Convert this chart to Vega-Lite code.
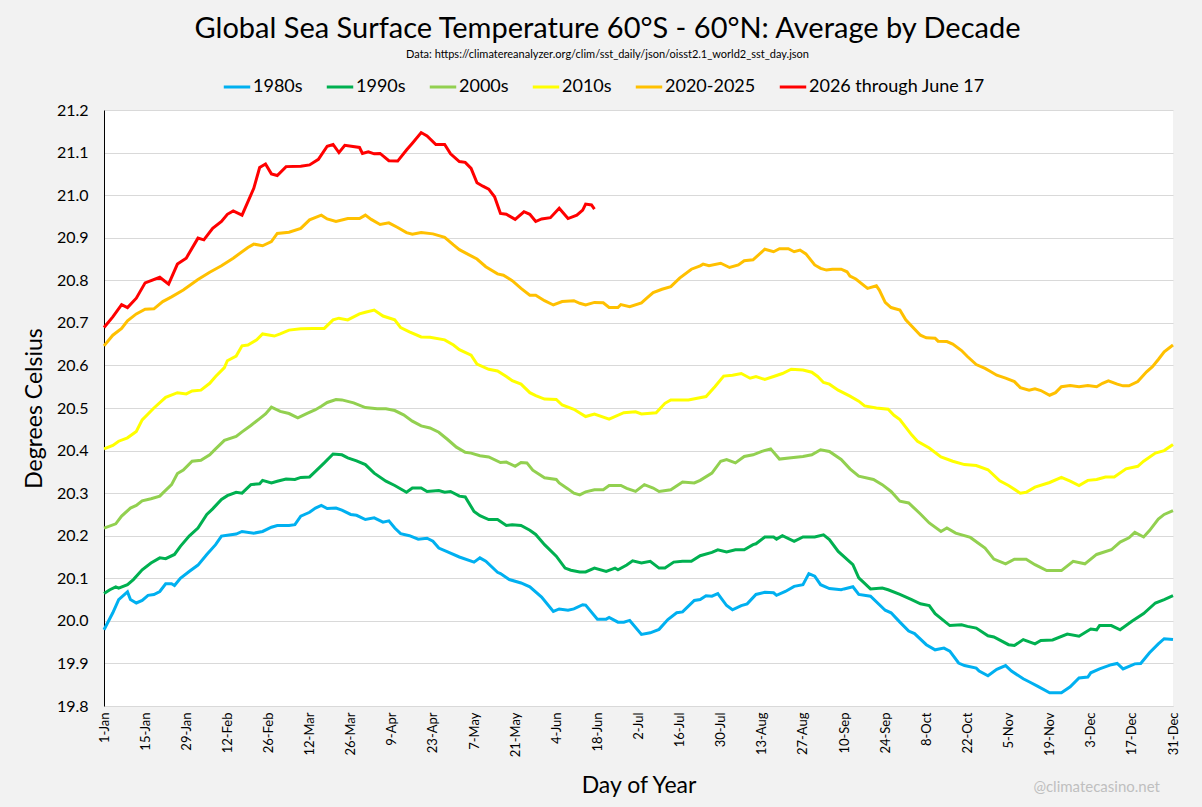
{
"$schema":"https://vega.github.io/schema/vega-lite/v6.json",
"width":1069,"height":596,
"autosize":"none",
"padding":{"left":104,"top":110,"right":29,"bottom":101},
"background":"#f2f2f2",
"config":{"font":"Lato","view":{"fill":"white","stroke":null}},
"title":{"text":"Global Sea Surface Temperature 60°S - 60°N: Average by Decade","subtitle":"Data: https://climatereanalyzer.org/clim/sst_daily/json/oisst2.1_world2_sst_day.json","fontSize":29,"fontWeight":"normal","color":"black","subtitleFontSize":11,"subtitleColor":"black","subtitlePadding":5,"anchor":"middle","dx":-31,"offset":12},
"datasets":{
"d1980":[{"day":1,"temp":19.979},{"day":4,"temp":20.019},{"day":6,"temp":20.05},{"day":9,"temp":20.068},{"day":10,"temp":20.05},{"day":12,"temp":20.042},{"day":14,"temp":20.048},{"day":16,"temp":20.06},{"day":18,"temp":20.062},{"day":20,"temp":20.069},{"day":22,"temp":20.087},{"day":24,"temp":20.087},{"day":25,"temp":20.083},{"day":27,"temp":20.1},{"day":30,"temp":20.116},{"day":33,"temp":20.131},{"day":36,"temp":20.156},{"day":39,"temp":20.179},{"day":41,"temp":20.199},{"day":43,"temp":20.201},{"day":46,"temp":20.204},{"day":48,"temp":20.21},{"day":52,"temp":20.206},{"day":55,"temp":20.21},{"day":58,"temp":20.22},{"day":60,"temp":20.224},{"day":64,"temp":20.224},{"day":66,"temp":20.226},{"day":68,"temp":20.246},{"day":71,"temp":20.255},{"day":73,"temp":20.265},{"day":75,"temp":20.271},{"day":77,"temp":20.264},{"day":80,"temp":20.265},{"day":82,"temp":20.26},{"day":85,"temp":20.25},{"day":87,"temp":20.248},{"day":90,"temp":20.238},{"day":93,"temp":20.242},{"day":96,"temp":20.232},{"day":98,"temp":20.235},{"day":100,"temp":20.218},{"day":102,"temp":20.205},{"day":105,"temp":20.2},{"day":108,"temp":20.192},{"day":111,"temp":20.194},{"day":113,"temp":20.187},{"day":115,"temp":20.171},{"day":118,"temp":20.162},{"day":122,"temp":20.15},{"day":127,"temp":20.138},{"day":129,"temp":20.148},{"day":131,"temp":20.14},{"day":135,"temp":20.114},{"day":136,"temp":20.111},{"day":139,"temp":20.097},{"day":143,"temp":20.089},{"day":146,"temp":20.08},{"day":150,"temp":20.056},{"day":154,"temp":20.022},{"day":156,"temp":20.028},{"day":159,"temp":20.025},{"day":161,"temp":20.028},{"day":164,"temp":20.038},{"day":165,"temp":20.037},{"day":169,"temp":20.004},{"day":172,"temp":20.004},{"day":173,"temp":20.008},{"day":176,"temp":19.997},{"day":178,"temp":19.997},{"day":180,"temp":20.001},{"day":184,"temp":19.968},{"day":187,"temp":19.972},{"day":190,"temp":19.98},{"day":193,"temp":20.003},{"day":196,"temp":20.019},{"day":198,"temp":20.021},{"day":202,"temp":20.048},{"day":204,"temp":20.05},{"day":206,"temp":20.059},{"day":208,"temp":20.058},{"day":210,"temp":20.064},{"day":213,"temp":20.036},{"day":215,"temp":20.026},{"day":218,"temp":20.036},{"day":220,"temp":20.04},{"day":223,"temp":20.062},{"day":226,"temp":20.067},{"day":229,"temp":20.066},{"day":230,"temp":20.06},{"day":233,"temp":20.069},{"day":236,"temp":20.081},{"day":239,"temp":20.085},{"day":241,"temp":20.111},{"day":243,"temp":20.105},{"day":245,"temp":20.085},{"day":248,"temp":20.076},{"day":252,"temp":20.073},{"day":253,"temp":20.075},{"day":256,"temp":20.08},{"day":258,"temp":20.062},{"day":262,"temp":20.058},{"day":267,"temp":20.025},{"day":269,"temp":20.019},{"day":272,"temp":19.997},{"day":275,"temp":19.976},{"day":277,"temp":19.97},{"day":281,"temp":19.944},{"day":284,"temp":19.932},{"day":287,"temp":19.936},{"day":289,"temp":19.929},{"day":292,"temp":19.901},{"day":294,"temp":19.895},{"day":298,"temp":19.889},{"day":299,"temp":19.882},{"day":302,"temp":19.871},{"day":305,"temp":19.886},{"day":308,"temp":19.895},{"day":310,"temp":19.882},{"day":314,"temp":19.864},{"day":316,"temp":19.857},{"day":319,"temp":19.846},{"day":323,"temp":19.831},{"day":327,"temp":19.831},{"day":330,"temp":19.845},{"day":333,"temp":19.866},{"day":336,"temp":19.868},{"day":337,"temp":19.878},{"day":340,"temp":19.887},{"day":344,"temp":19.897},{"day":346,"temp":19.9},{"day":348,"temp":19.887},{"day":352,"temp":19.899},{"day":354,"temp":19.9},{"day":357,"temp":19.925},{"day":360,"temp":19.946},{"day":362,"temp":19.958},{"day":365,"temp":19.956}],
"d1990":[{"day":1,"temp":20.064},{"day":3,"temp":20.073},{"day":5,"temp":20.08},{"day":6,"temp":20.077},{"day":9,"temp":20.085},{"day":11,"temp":20.097},{"day":14,"temp":20.12},{"day":17,"temp":20.136},{"day":20,"temp":20.148},{"day":22,"temp":20.146},{"day":25,"temp":20.156},{"day":27,"temp":20.175},{"day":30,"temp":20.199},{"day":33,"temp":20.218},{"day":36,"temp":20.25},{"day":38,"temp":20.263},{"day":41,"temp":20.285},{"day":43,"temp":20.294},{"day":46,"temp":20.302},{"day":48,"temp":20.3},{"day":51,"temp":20.32},{"day":54,"temp":20.322},{"day":55,"temp":20.33},{"day":58,"temp":20.324},{"day":60,"temp":20.328},{"day":63,"temp":20.333},{"day":66,"temp":20.332},{"day":68,"temp":20.337},{"day":71,"temp":20.338},{"day":73,"temp":20.351},{"day":76,"temp":20.371},{"day":79,"temp":20.392},{"day":82,"temp":20.39},{"day":84,"temp":20.383},{"day":87,"temp":20.376},{"day":90,"temp":20.367},{"day":93,"temp":20.347},{"day":97,"temp":20.328},{"day":100,"temp":20.318},{"day":104,"temp":20.302},{"day":106,"temp":20.312},{"day":109,"temp":20.312},{"day":111,"temp":20.304},{"day":115,"temp":20.306},{"day":117,"temp":20.302},{"day":119,"temp":20.304},{"day":122,"temp":20.293},{"day":124,"temp":20.291},{"day":127,"temp":20.257},{"day":129,"temp":20.247},{"day":132,"temp":20.238},{"day":135,"temp":20.238},{"day":138,"temp":20.224},{"day":140,"temp":20.226},{"day":143,"temp":20.224},{"day":146,"temp":20.213},{"day":148,"temp":20.203},{"day":151,"temp":20.179},{"day":155,"temp":20.152},{"day":158,"temp":20.124},{"day":160,"temp":20.119},{"day":163,"temp":20.115},{"day":165,"temp":20.115},{"day":168,"temp":20.124},{"day":172,"temp":20.116},{"day":175,"temp":20.124},{"day":176,"temp":20.12},{"day":179,"temp":20.131},{"day":181,"temp":20.141},{"day":184,"temp":20.136},{"day":187,"temp":20.14},{"day":190,"temp":20.124},{"day":192,"temp":20.124},{"day":195,"temp":20.138},{"day":198,"temp":20.14},{"day":201,"temp":20.14},{"day":204,"temp":20.153},{"day":208,"temp":20.161},{"day":210,"temp":20.167},{"day":213,"temp":20.162},{"day":216,"temp":20.167},{"day":219,"temp":20.167},{"day":222,"temp":20.179},{"day":223,"temp":20.181},{"day":226,"temp":20.197},{"day":229,"temp":20.197},{"day":230,"temp":20.192},{"day":232,"temp":20.2},{"day":236,"temp":20.187},{"day":239,"temp":20.197},{"day":243,"temp":20.197},{"day":246,"temp":20.202},{"day":248,"temp":20.191},{"day":251,"temp":20.163},{"day":256,"temp":20.132},{"day":258,"temp":20.101},{"day":262,"temp":20.075},{"day":266,"temp":20.077},{"day":268,"temp":20.073},{"day":272,"temp":20.062},{"day":276,"temp":20.05},{"day":279,"temp":20.04},{"day":282,"temp":20.036},{"day":284,"temp":20.017},{"day":289,"temp":19.989},{"day":293,"temp":19.991},{"day":295,"temp":19.987},{"day":298,"temp":19.983},{"day":302,"temp":19.965},{"day":304,"temp":19.962},{"day":309,"temp":19.944},{"day":311,"temp":19.942},{"day":314,"temp":19.956},{"day":318,"temp":19.946},{"day":320,"temp":19.954},{"day":324,"temp":19.955},{"day":329,"temp":19.969},{"day":333,"temp":19.964},{"day":337,"temp":19.981},{"day":339,"temp":19.979},{"day":340,"temp":19.989},{"day":344,"temp":19.989},{"day":347,"temp":19.979},{"day":351,"temp":19.999},{"day":355,"temp":20.017},{"day":359,"temp":20.042},{"day":362,"temp":20.05},{"day":365,"temp":20.059}],
"d2000":[{"day":1,"temp":20.218},{"day":5,"temp":20.228},{"day":7,"temp":20.246},{"day":10,"temp":20.265},{"day":12,"temp":20.271},{"day":14,"temp":20.282},{"day":17,"temp":20.287},{"day":20,"temp":20.293},{"day":21,"temp":20.3},{"day":24,"temp":20.32},{"day":26,"temp":20.346},{"day":28,"temp":20.354},{"day":31,"temp":20.375},{"day":34,"temp":20.377},{"day":37,"temp":20.39},{"day":39,"temp":20.404},{"day":42,"temp":20.424},{"day":46,"temp":20.433},{"day":48,"temp":20.444},{"day":51,"temp":20.459},{"day":54,"temp":20.475},{"day":56,"temp":20.486},{"day":58,"temp":20.502},{"day":61,"temp":20.492},{"day":64,"temp":20.487},{"day":67,"temp":20.477},{"day":70,"temp":20.487},{"day":73,"temp":20.496},{"day":75,"temp":20.504},{"day":77,"temp":20.513},{"day":80,"temp":20.52},{"day":82,"temp":20.519},{"day":86,"temp":20.512},{"day":90,"temp":20.501},{"day":94,"temp":20.498},{"day":97,"temp":20.498},{"day":100,"temp":20.494},{"day":103,"temp":20.484},{"day":106,"temp":20.469},{"day":109,"temp":20.458},{"day":112,"temp":20.453},{"day":115,"temp":20.443},{"day":118,"temp":20.426},{"day":121,"temp":20.408},{"day":124,"temp":20.396},{"day":126,"temp":20.394},{"day":129,"temp":20.388},{"day":132,"temp":20.385},{"day":136,"temp":20.372},{"day":138,"temp":20.373},{"day":141,"temp":20.363},{"day":143,"temp":20.372},{"day":145,"temp":20.371},{"day":147,"temp":20.354},{"day":151,"temp":20.336},{"day":155,"temp":20.332},{"day":156,"temp":20.324},{"day":159,"temp":20.31},{"day":161,"temp":20.3},{"day":163,"temp":20.296},{"day":165,"temp":20.303},{"day":168,"temp":20.308},{"day":171,"temp":20.308},{"day":173,"temp":20.318},{"day":177,"temp":20.318},{"day":179,"temp":20.311},{"day":182,"temp":20.304},{"day":185,"temp":20.32},{"day":188,"temp":20.312},{"day":190,"temp":20.304},{"day":194,"temp":20.308},{"day":198,"temp":20.326},{"day":202,"temp":20.324},{"day":204,"temp":20.33},{"day":208,"temp":20.347},{"day":211,"temp":20.375},{"day":213,"temp":20.379},{"day":216,"temp":20.371},{"day":219,"temp":20.386},{"day":222,"temp":20.39},{"day":225,"temp":20.398},{"day":228,"temp":20.404},{"day":231,"temp":20.38},{"day":235,"temp":20.383},{"day":239,"temp":20.386},{"day":242,"temp":20.39},{"day":245,"temp":20.402},{"day":248,"temp":20.398},{"day":252,"temp":20.379},{"day":255,"temp":20.357},{"day":258,"temp":20.34},{"day":263,"temp":20.332},{"day":266,"temp":20.32},{"day":269,"temp":20.304},{"day":272,"temp":20.281},{"day":275,"temp":20.277},{"day":279,"temp":20.251},{"day":282,"temp":20.23},{"day":286,"temp":20.21},{"day":288,"temp":20.218},{"day":291,"temp":20.206},{"day":296,"temp":20.196},{"day":301,"temp":20.171},{"day":304,"temp":20.145},{"day":308,"temp":20.134},{"day":311,"temp":20.145},{"day":315,"temp":20.145},{"day":318,"temp":20.132},{"day":322,"temp":20.118},{"day":327,"temp":20.118},{"day":331,"temp":20.14},{"day":335,"temp":20.134},{"day":339,"temp":20.156},{"day":344,"temp":20.167},{"day":347,"temp":20.185},{"day":350,"temp":20.195},{"day":352,"temp":20.208},{"day":355,"temp":20.197},{"day":357,"temp":20.212},{"day":360,"temp":20.239},{"day":362,"temp":20.25},{"day":365,"temp":20.259}],
"d2010":[{"day":1,"temp":20.404},{"day":4,"temp":20.412},{"day":6,"temp":20.422},{"day":9,"temp":20.43},{"day":12,"temp":20.445},{"day":14,"temp":20.472},{"day":18,"temp":20.5},{"day":22,"temp":20.525},{"day":26,"temp":20.536},{"day":29,"temp":20.533},{"day":31,"temp":20.54},{"day":34,"temp":20.542},{"day":37,"temp":20.558},{"day":39,"temp":20.574},{"day":42,"temp":20.595},{"day":43,"temp":20.611},{"day":46,"temp":20.622},{"day":48,"temp":20.646},{"day":50,"temp":20.648},{"day":53,"temp":20.66},{"day":55,"temp":20.674},{"day":59,"temp":20.669},{"day":61,"temp":20.674},{"day":64,"temp":20.683},{"day":68,"temp":20.686},{"day":72,"temp":20.687},{"day":76,"temp":20.687},{"day":79,"temp":20.707},{"day":81,"temp":20.711},{"day":84,"temp":20.707},{"day":88,"temp":20.721},{"day":90,"temp":20.725},{"day":93,"temp":20.73},{"day":96,"temp":20.716},{"day":100,"temp":20.707},{"day":102,"temp":20.689},{"day":105,"temp":20.679},{"day":109,"temp":20.667},{"day":112,"temp":20.666},{"day":117,"temp":20.66},{"day":120,"temp":20.648},{"day":122,"temp":20.637},{"day":126,"temp":20.624},{"day":128,"temp":20.603},{"day":132,"temp":20.591},{"day":135,"temp":20.587},{"day":138,"temp":20.574},{"day":140,"temp":20.564},{"day":143,"temp":20.556},{"day":146,"temp":20.536},{"day":148,"temp":20.529},{"day":151,"temp":20.521},{"day":155,"temp":20.52},{"day":157,"temp":20.507},{"day":161,"temp":20.497},{"day":165,"temp":20.48},{"day":168,"temp":20.486},{"day":173,"temp":20.474},{"day":178,"temp":20.489},{"day":182,"temp":20.491},{"day":184,"temp":20.486},{"day":189,"temp":20.489},{"day":192,"temp":20.511},{"day":194,"temp":20.519},{"day":200,"temp":20.519},{"day":203,"temp":20.523},{"day":206,"temp":20.527},{"day":209,"temp":20.55},{"day":212,"temp":20.575},{"day":215,"temp":20.577},{"day":218,"temp":20.581},{"day":221,"temp":20.57},{"day":223,"temp":20.574},{"day":226,"temp":20.567},{"day":229,"temp":20.574},{"day":232,"temp":20.581},{"day":235,"temp":20.591},{"day":239,"temp":20.589},{"day":242,"temp":20.584},{"day":244,"temp":20.574},{"day":246,"temp":20.56},{"day":248,"temp":20.556},{"day":251,"temp":20.542},{"day":255,"temp":20.528},{"day":258,"temp":20.516},{"day":260,"temp":20.505},{"day":264,"temp":20.5},{"day":268,"temp":20.497},{"day":270,"temp":20.483},{"day":272,"temp":20.473},{"day":276,"temp":20.437},{"day":278,"temp":20.422},{"day":282,"temp":20.406},{"day":286,"temp":20.385},{"day":290,"temp":20.375},{"day":294,"temp":20.367},{"day":298,"temp":20.365},{"day":302,"temp":20.355},{"day":306,"temp":20.329},{"day":309,"temp":20.318},{"day":313,"temp":20.3},{"day":315,"temp":20.302},{"day":318,"temp":20.314},{"day":323,"temp":20.325},{"day":327,"temp":20.337},{"day":330,"temp":20.328},{"day":333,"temp":20.318},{"day":336,"temp":20.33},{"day":339,"temp":20.332},{"day":342,"temp":20.338},{"day":345,"temp":20.338},{"day":349,"temp":20.357},{"day":353,"temp":20.363},{"day":355,"temp":20.375},{"day":359,"temp":20.394},{"day":362,"temp":20.4},{"day":365,"temp":20.414}],
"d2020":[{"day":1,"temp":20.646},{"day":4,"temp":20.671},{"day":7,"temp":20.687},{"day":9,"temp":20.705},{"day":12,"temp":20.721},{"day":15,"temp":20.732},{"day":18,"temp":20.733},{"day":21,"temp":20.75},{"day":24,"temp":20.761},{"day":28,"temp":20.777},{"day":33,"temp":20.802},{"day":37,"temp":20.819},{"day":41,"temp":20.834},{"day":45,"temp":20.852},{"day":50,"temp":20.877},{"day":52,"temp":20.885},{"day":55,"temp":20.881},{"day":58,"temp":20.891},{"day":60,"temp":20.91},{"day":64,"temp":20.913},{"day":68,"temp":20.922},{"day":71,"temp":20.942},{"day":75,"temp":20.953},{"day":77,"temp":20.944},{"day":80,"temp":20.938},{"day":84,"temp":20.945},{"day":88,"temp":20.945},{"day":90,"temp":20.953},{"day":92,"temp":20.943},{"day":95,"temp":20.931},{"day":98,"temp":20.935},{"day":101,"temp":20.924},{"day":104,"temp":20.912},{"day":106,"temp":20.908},{"day":109,"temp":20.912},{"day":113,"temp":20.909},{"day":117,"temp":20.901},{"day":120,"temp":20.883},{"day":122,"temp":20.872},{"day":125,"temp":20.861},{"day":128,"temp":20.85},{"day":131,"temp":20.832},{"day":135,"temp":20.815},{"day":137,"temp":20.812},{"day":140,"temp":20.799},{"day":143,"temp":20.781},{"day":146,"temp":20.765},{"day":148,"temp":20.765},{"day":151,"temp":20.752},{"day":154,"temp":20.742},{"day":157,"temp":20.75},{"day":161,"temp":20.752},{"day":163,"temp":20.746},{"day":165,"temp":20.742},{"day":168,"temp":20.748},{"day":171,"temp":20.747},{"day":173,"temp":20.736},{"day":176,"temp":20.736},{"day":177,"temp":20.743},{"day":180,"temp":20.738},{"day":184,"temp":20.747},{"day":186,"temp":20.759},{"day":188,"temp":20.771},{"day":191,"temp":20.779},{"day":194,"temp":20.785},{"day":197,"temp":20.805},{"day":201,"temp":20.826},{"day":204,"temp":20.834},{"day":205,"temp":20.838},{"day":207,"temp":20.834},{"day":211,"temp":20.84},{"day":214,"temp":20.83},{"day":217,"temp":20.836},{"day":219,"temp":20.846},{"day":222,"temp":20.848},{"day":226,"temp":20.873},{"day":229,"temp":20.867},{"day":231,"temp":20.874},{"day":234,"temp":20.874},{"day":236,"temp":20.867},{"day":238,"temp":20.871},{"day":240,"temp":20.862},{"day":243,"temp":20.836},{"day":245,"temp":20.828},{"day":247,"temp":20.824},{"day":249,"temp":20.826},{"day":252,"temp":20.826},{"day":254,"temp":20.82},{"day":255,"temp":20.81},{"day":257,"temp":20.803},{"day":261,"temp":20.781},{"day":264,"temp":20.787},{"day":265,"temp":20.777},{"day":267,"temp":20.748},{"day":269,"temp":20.736},{"day":272,"temp":20.73},{"day":274,"temp":20.707},{"day":279,"temp":20.671},{"day":281,"temp":20.665},{"day":284,"temp":20.664},{"day":285,"temp":20.657},{"day":288,"temp":20.656},{"day":290,"temp":20.65},{"day":293,"temp":20.635},{"day":295,"temp":20.621},{"day":298,"temp":20.602},{"day":301,"temp":20.593},{"day":303,"temp":20.585},{"day":305,"temp":20.577},{"day":308,"temp":20.57},{"day":311,"temp":20.562},{"day":313,"temp":20.548},{"day":316,"temp":20.542},{"day":318,"temp":20.545},{"day":320,"temp":20.541},{"day":323,"temp":20.53},{"day":325,"temp":20.536},{"day":327,"temp":20.55},{"day":330,"temp":20.553},{"day":333,"temp":20.55},{"day":336,"temp":20.553},{"day":339,"temp":20.55},{"day":341,"temp":20.558},{"day":343,"temp":20.564},{"day":346,"temp":20.556},{"day":348,"temp":20.552},{"day":350,"temp":20.552},{"day":353,"temp":20.562},{"day":356,"temp":20.585},{"day":358,"temp":20.597},{"day":360,"temp":20.614},{"day":362,"temp":20.632},{"day":365,"temp":20.648}],
"d2026":[{"day":1,"temp":20.689},{"day":4,"temp":20.714},{"day":7,"temp":20.743},{"day":9,"temp":20.736},{"day":12,"temp":20.758},{"day":15,"temp":20.794},{"day":20,"temp":20.807},{"day":23,"temp":20.791},{"day":26,"temp":20.838},{"day":29,"temp":20.852},{"day":33,"temp":20.899},{"day":35,"temp":20.895},{"day":38,"temp":20.922},{"day":41,"temp":20.938},{"day":43,"temp":20.955},{"day":45,"temp":20.963},{"day":48,"temp":20.953},{"day":52,"temp":21.016},{"day":54,"temp":21.065},{"day":56,"temp":21.073},{"day":58,"temp":21.05},{"day":60,"temp":21.046},{"day":63,"temp":21.067},{"day":68,"temp":21.068},{"day":71,"temp":21.071},{"day":74,"temp":21.084},{"day":77,"temp":21.115},{"day":79,"temp":21.119},{"day":81,"temp":21.1},{"day":83,"temp":21.117},{"day":88,"temp":21.112},{"day":89,"temp":21.098},{"day":91,"temp":21.102},{"day":93,"temp":21.097},{"day":95,"temp":21.098},{"day":98,"temp":21.081},{"day":101,"temp":21.08},{"day":104,"temp":21.106},{"day":106,"temp":21.122},{"day":109,"temp":21.147},{"day":111,"temp":21.139},{"day":114,"temp":21.119},{"day":117,"temp":21.119},{"day":119,"temp":21.097},{"day":122,"temp":21.079},{"day":124,"temp":21.077},{"day":126,"temp":21.063},{"day":128,"temp":21.029},{"day":130,"temp":21.021},{"day":132,"temp":21.014},{"day":134,"temp":20.996},{"day":136,"temp":20.957},{"day":138,"temp":20.955},{"day":141,"temp":20.943},{"day":144,"temp":20.961},{"day":146,"temp":20.955},{"day":148,"temp":20.938},{"day":150,"temp":20.944},{"day":153,"temp":20.947},{"day":156,"temp":20.969},{"day":159,"temp":20.945},{"day":162,"temp":20.953},{"day":164,"temp":20.965},{"day":165,"temp":20.979},{"day":167,"temp":20.977},{"day":168,"temp":20.967}]
},
"encoding":{
"x":{"field":"day","type":"quantitative","scale":{"domain":[1,365],"nice":false,"zero":false},
"axis":{"values":[1,15,29,43,57,71,85,99,113,127,141,155,169,183,197,211,225,239,253,267,281,295,309,323,337,351,365],"labelExpr":"timeFormat(datetime(2025,0,datum.value),'%-d-%b')","labelAngle":-90,"labelFontSize":13,"labelColor":"black","labelPadding":6,"labelFlush":false,"labelOverlap":false,"ticks":false,"grid":false,"domainColor":"#d9d9d9","title":"Day of Year","titleFontSize":23,"titleFontWeight":"normal","titleColor":"black","titlePadding":18}},
"y":{"field":"temp","type":"quantitative","scale":{"domain":[19.8,21.2],"nice":false,"zero":false},
"axis":{"values":[19.8,19.9,20,20.1,20.2,20.3,20.4,20.5,20.6,20.7,20.8,20.9,21,21.1,21.2],"format":".1f","labelFontSize":16,"labelColor":"black","labelPadding":16,"ticks":false,"domain":true,"domainColor":"black","gridColor":"#d9d9d9","title":"Degrees Celsius","titleFontSize":23,"titleFontWeight":"normal","titleColor":"black","titlePadding":10}}
},
"layer":[
{"data":{"values":[{}]},"mark":{"type":"rule","color":"black","strokeWidth":1},"encoding":{"x":{"datum":1},"x2":{"datum":365},"y":{"datum":21.2}}},
{"data":{"values":[{}]},"mark":{"type":"rule","color":"black","strokeWidth":1},"encoding":{"x":{"datum":365},"y":{"datum":19.8},"y2":{"datum":21.2}}},
{"data":{"name":"d1980"},"mark":{"type":"line","strokeWidth":3},"encoding":{"color":{"datum":"1980s","scale":{"domain":["1980s","1990s","2000s","2010s","2020-2025","2026 through June 17"],"range":["#00b0f0","#00b050","#92d050","#ffff00","#ffc000","#ff0000"]},"legend":{"orient":"none","legendX":118,"legendY":-38,"direction":"horizontal","title":null,"symbolType":"stroke","symbolStrokeWidth":3,"symbolSize":700,"labelFontSize":18,"labelColor":"black","labelLimit":0,"columnPadding":17,"labelOffset":1}}}},
{"data":{"name":"d1990"},"mark":{"type":"line","strokeWidth":3},"encoding":{"color":{"datum":"1990s"}}},
{"data":{"name":"d2000"},"mark":{"type":"line","strokeWidth":3},"encoding":{"color":{"datum":"2000s"}}},
{"data":{"name":"d2010"},"mark":{"type":"line","strokeWidth":3},"encoding":{"color":{"datum":"2010s"}}},
{"data":{"name":"d2020"},"mark":{"type":"line","strokeWidth":3},"encoding":{"color":{"datum":"2020-2025"}}},
{"data":{"name":"d2026"},"mark":{"type":"line","strokeWidth":3},"encoding":{"color":{"datum":"2026 through June 17"}}},
{"data":{"values":[{"label":"@climatecasino.net","day":339,"temp":19.61}]},"mark":{"type":"text","color":"#bfbfbf","fontSize":15,"align":"center","baseline":"middle","clip":false},"encoding":{"text":{"field":"label"}}}
]
}
